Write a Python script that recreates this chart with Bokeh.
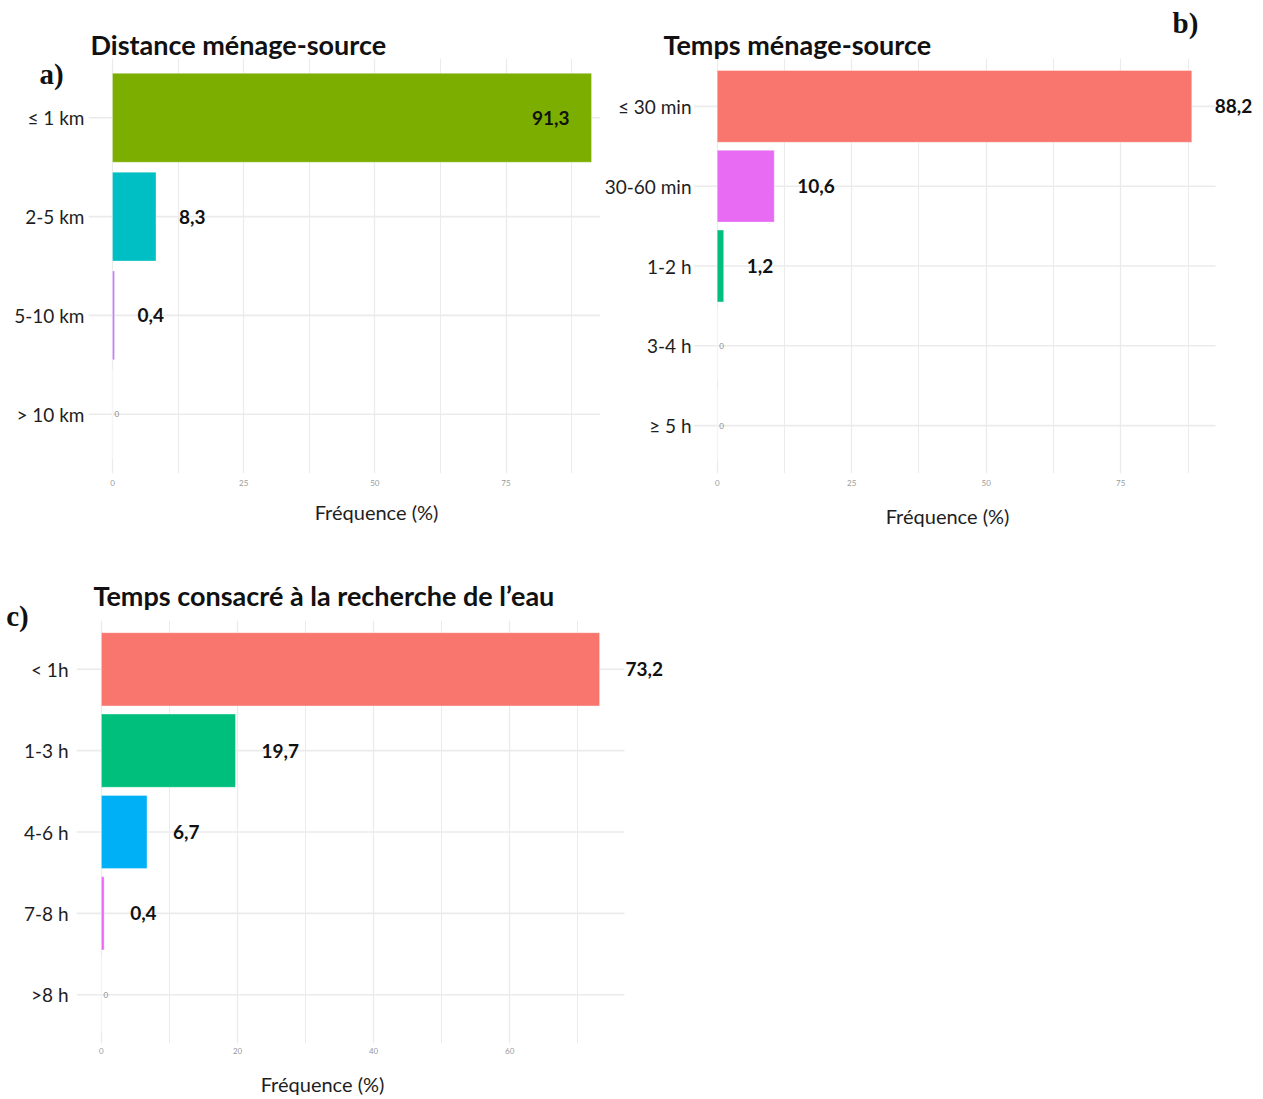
from bokeh.plotting import figure
from bokeh.models import ColumnDataSource, FactorRange, Range1d, FixedTicker, LabelSet, Label
from bokeh.layouts import column, row
from bokeh.core.properties import value
from bokeh.embed import file_html
from bokeh.resources import INLINE

# a) Distance ménage-source
dist_cats = ["≤ 1 km", "2-5 km", "5-10 km", "> 10 km"]
dist_vals = [91.3, 8.3, 0.4, 0.0]
dist_cols = ["#7CAE00", "#00BFC4", "#C77CFF", "#F8766D"]
dist_ticks = [0, 25, 50, 75]
dist_minor = [12.5, 37.5, 62.5, 87.5]

# b) Temps ménage-source
temps_cats = ["≤ 30 min", "30-60 min", "1-2 h", "3-4 h", "≥ 5 h"]
temps_vals = [88.2, 10.6, 1.2, 0.0, 0.0]
temps_cols = ["#F8766D", "#E76BF3", "#00BF7D", "#A3A500", "#00B0F6"]
temps_ticks = [0, 25, 50, 75]
temps_minor = [12.5, 37.5, 62.5, 87.5]

# c) Temps consacré à la recherche de l'eau
rech_cats = ["< 1h", "1-3 h", "4-6 h", "7-8 h", ">8 h"]
rech_vals = [73.2, 19.7, 6.7, 0.4, 0.0]
rech_cols = ["#F8766D", "#00BF7D", "#00B0F6", "#E76BF3", "#A3A500"]
rech_ticks = [0, 20, 40, 60]
rech_minor = [10, 30, 50, 70]

FONT = "Lato"
GRID = "#EBEBEB"
INK = "#111111"


def fmt(v):
    return f"{v:.1f}".replace(".", ",")


def canvas_label(p, side, text, xy, font, size, bold=False, align="left", color=INK):
    p.add_layout(Label(x=xy[0], y=xy[1], x_units="canvas", y_units="canvas",
                       text=text, text_font=font, text_font_size=size,
                       text_font_style="bold" if bold else "normal",
                       text_color=color, text_align=align, text_baseline="middle"),
                 side)


def panel(cats, vals, cols, ticks, minor, size, borders, panel_px,
          title, title_xy, title_side, letter, letter_xy, letter_side,
          xlabel_xy, xlabel_side, label_offset, tick_standoff, cat_standoff,
          inside_min=None):
    width, height = size
    left, right, top, bottom = borders
    vmax = max(vals)
    # ggplot-like 5 % expansion on both sides of [0, max]
    x0 = -0.05 * vmax
    x_panel_end = 1.05 * vmax
    scale = panel_px / (x_panel_end - x0)
    frame_px = width - left - right
    x1 = x0 + frame_px / scale

    p = figure(width=width, height=height,
               x_range=Range1d(x0, x1),
               y_range=FactorRange(factors=list(reversed(cats)),
                                   range_padding=0.1,
                                   range_padding_units="absolute"),
               output_backend="svg", toolbar_location=None,
               min_border_left=left, min_border_right=right,
               min_border_top=top, min_border_bottom=bottom)
    p.title.visible = False
    p.outline_line_color = None
    p.background_fill_color = "white"
    p.border_fill_color = "white"

    src = ColumnDataSource(dict(cat=cats, val=vals, col=cols,
                                g0=[x0] * len(cats), g1=[x_panel_end] * len(cats)))
    # horizontal guide lines limited to the panel width
    p.segment(x0="g0", x1="g1", y0="cat", y1="cat", line_color=GRID,
              line_width=1.6, source=src)
    p.hbar(y="cat", left=0, right="val", height=0.9, fill_color="col",
           line_color="white", line_alpha=0.35, line_width=1, source=src)

    ticker = FixedTicker(ticks=ticks, minor_ticks=minor)
    p.xaxis.ticker = ticker
    p.xgrid.ticker = ticker
    p.xgrid.grid_line_color = GRID
    p.xgrid.grid_line_width = 1.2
    p.xgrid.minor_grid_line_color = GRID
    p.xgrid.minor_grid_line_width = 1.0
    p.ygrid.visible = False

    for ax in (p.xaxis, p.yaxis):
        ax.axis_line_color = None
        ax.major_tick_line_color = None
        ax.minor_tick_line_color = None
        ax.major_tick_out = 0
        ax.major_tick_in = 0
    p.xaxis.major_label_text_font = FONT
    p.xaxis.major_label_text_font_size = "8px"
    p.xaxis.major_label_text_color = "#9a9a9a"
    p.xaxis.major_label_standoff = tick_standoff
    p.yaxis.major_label_text_font = FONT
    p.yaxis.major_label_text_font_size = "19px"
    p.yaxis.major_label_text_color = "#1e1e1e"
    p.yaxis.major_label_standoff = cat_standoff

    # value labels beside (or inside) the bars
    out_c, out_v, out_t = [], [], []
    in_c, in_v, in_t = [], [], []
    zero_c, zero_v = [], []
    for c, v in zip(cats, vals):
        if v == 0:
            zero_c.append(c)
            zero_v.append(v)
        elif inside_min is not None and v >= inside_min:
            in_c.append(c); in_v.append(v); in_t.append(fmt(v))
        else:
            out_c.append(c); out_v.append(v); out_t.append(fmt(v))
    common = dict(text_font=value(FONT), text_font_size="19px",
                  text_font_style="bold", text_color=INK,
                  text_baseline="middle")
    if out_c:
        p.add_layout(LabelSet(x="val", y="cat", text="t", x_offset=label_offset,
                              text_align="left",
                              source=ColumnDataSource(dict(val=out_v, cat=out_c, t=out_t)),
                              **common))
    if in_c:
        p.add_layout(LabelSet(x="val", y="cat", text="t", x_offset=-label_offset + 1,
                              text_align="right",
                              source=ColumnDataSource(dict(val=in_v, cat=in_c, t=in_t)),
                              **common))
    if zero_c:
        p.add_layout(LabelSet(x="val", y="cat", text="t", x_offset=2,
                              text_align="left", text_baseline="middle",
                              text_font=value(FONT), text_font_size="8px",
                              text_color="#8a8a8a",
                              source=ColumnDataSource(dict(val=zero_v, cat=zero_c,
                                                           t=["0"] * len(zero_c)))))

    canvas_label(p, title_side, title, title_xy, FONT, "27px", bold=True)
    canvas_label(p, letter_side, letter, letter_xy, "Liberation Serif", "29px",
                 bold=True, align="center")
    canvas_label(p, xlabel_side, "Fréquence (%)", xlabel_xy, FONT, "20px",
                 align="center", color="#1e1e1e")
    return p


pa = panel(dist_cats, dist_vals, dist_cols, dist_ticks, dist_minor,
           (600, 540), (88, 0, 58, 67), 527,
           "Distance ménage-source", (90, 44), "above",
           "a)", (51, 73), "below",
           (376, 511), "above",
           label_offset=23, tick_standoff=2, cat_standoff=4, inside_min=90)

pb = panel(temps_cats, temps_vals, temps_cols, temps_ticks, temps_minor,
           (663, 540), (93, 5, 57, 67), 522,
           "Temps ménage-source", (63, 44), "above",
           "b)", (585, 22), "below",
           (347, 515), "above",
           label_offset=23, tick_standoff=2, cat_standoff=2)

pc = panel(rech_cats, rech_vals, rech_cols, rech_ticks, rech_minor,
           (700, 559), (76, 20, 80, 56), 548,
           "Temps consacré à la recherche de l’eau", (93, 55), "above",
           "c)", (17, 75), "above",
           (322, 543), "below",
           label_offset=26, tick_standoff=0, cat_standoff=8)

layout = column(row(pa, pb, spacing=0), pc, spacing=0)
open("out.html", "w").write(file_html(layout, INLINE))
